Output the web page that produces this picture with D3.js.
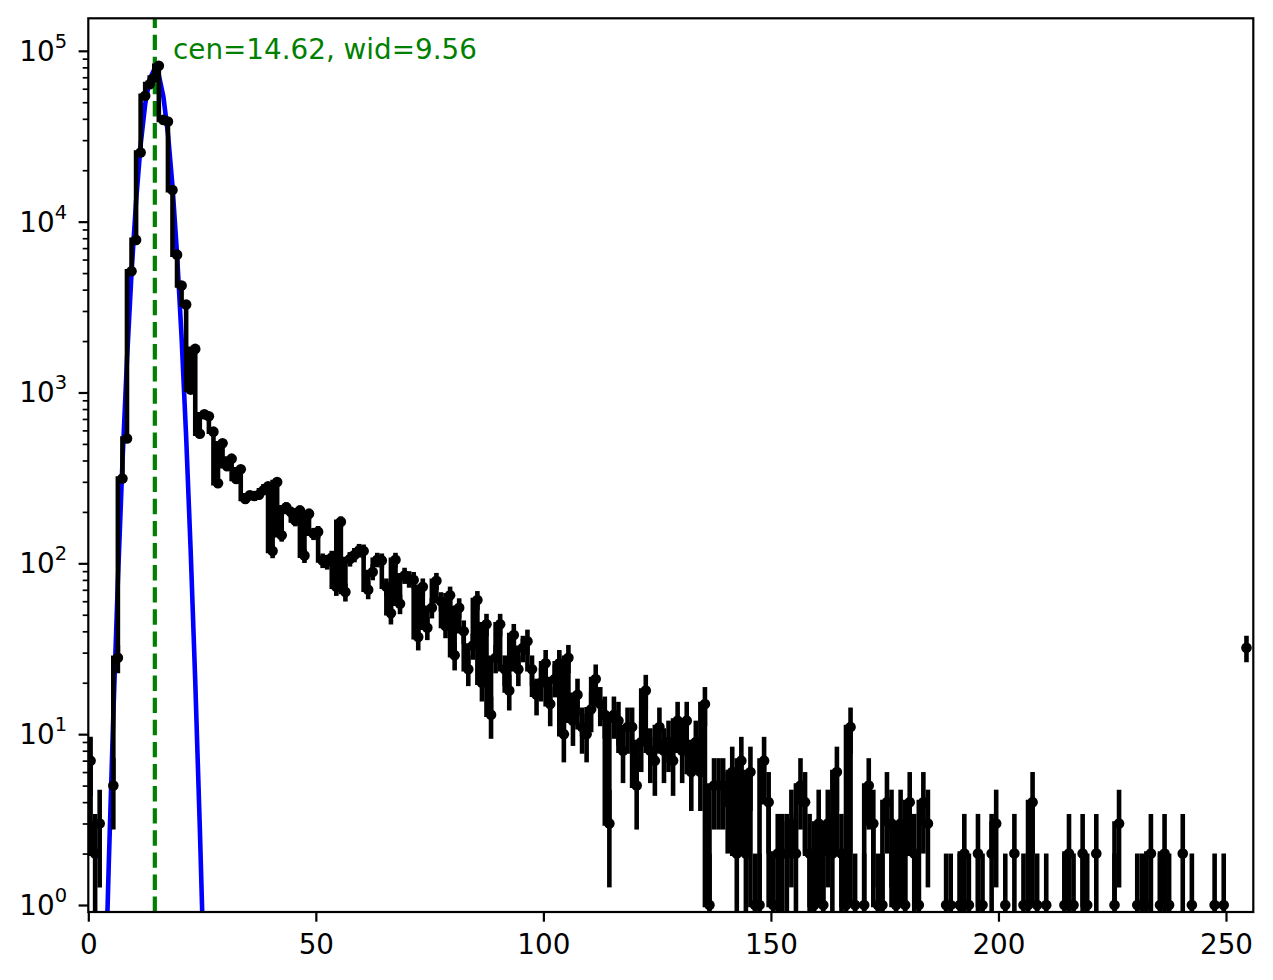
<!DOCTYPE html>
<html>
<head>
<meta charset="utf-8">
<script src="https://cdn.jsdelivr.net/npm/d3@7"></script>
<style>
  body { margin: 0; background: #fff; }
  text { font-family: "DejaVu Sans", sans-serif; }
</style>
</head>
<body>
<div id="chart"></div>
<script>
// counts per bin, 256 bins of width 1 (bin i is centred on i + 0.5)
var counts = [
  7, 2, 3, 0, 0, 5, 28, 314, 538, 5120, 7820, 25400, 54600, 63800, 69800, 81700,
  39400, 38600, 15300, 6410, 4230, 3270, 1040, 1800, 573, 745, 725, 590, 294, 505, 370, 410,
  312, 355, 238, 250, 248, 252, 268, 282, 118, 299, 146, 213, 200, 178, 204, 111,
  195, 149, 153, 104, 102, 108, 73, 175, 68, 106, 112, 119, 118, 70, 89, 105,
  104, 73, 51, 105, 58, 85, 81, 80, 37, 73, 42, 55, 79, 60, 43, 65,
  29, 55, 40, 24, 33, 61, 20, 44, 13, 28, 44, 24, 18, 38, 24, 32,
  35, 24, 17, 20, 26, 15, 21, 26, 10, 28, 12, 17, 11, 10, 14, 21,
  15, 13, 3, 13, 12, 8, 11, 11, 5, 9, 18, 8, 7, 11, 8, 9,
  7, 12, 8, 12, 6, 9, 6, 15, 1, 5, 5, 5, 4, 6, 2, 7,
  2, 6, 1, 1, 7, 4, 1, 2, 2, 2, 3, 2, 5, 4, 2, 1,
  3, 1, 3, 2, 6, 2, 1, 11, 1, 0, 1, 5, 3, 1, 1, 4,
  3, 1, 3, 1, 4, 2, 1, 4, 3, 0, 0, 0, 1, 1, 0, 1,
  2, 1, 0, 2, 1, 0, 2, 3, 0, 1, 0, 2, 0, 1, 1, 4,
  1, 0, 1, 0, 0, 0, 1, 2, 1, 0, 2, 1, 0, 2, 0, 0,
  0, 1, 3, 0, 0, 0, 1, 1, 1, 2, 0, 1, 2, 1, 0, 0,
  2, 0, 1, 0, 0, 0, 0, 1, 0, 1, 0, 0, 0, 0, 32, 0
];
var binWidth = 1;

// gaussian fit curve (blue), read at the bin centres
var fitX = [3.5, 4.5, 5.5, 6.5, 7.5, 8.5, 9.5, 10.5, 11.5, 12.5, 13.5, 14.5,
  15.5, 16.5, 17.5, 18.5, 19.5, 20.5, 21.5, 22.5, 23.5, 24.5, 25.5];
var fitY = [0.19, 1.74, 13, 78.6, 388, 1551, 5030, 13200, 28200, 48750, 68400, 77900,
  71900, 53900, 32760, 16150, 6460, 2096, 552, 117.7, 20.4, 2.87, 0.33];
var fitCen = 14.62;
var fitWid = 9.56;

// ticks
var xTicks = [0, 50, 100, 150, 200, 250];
var yExps = [0, 1, 2, 3, 4, 5];

// determine size of the figure and of the plot area
var width = 1273,
  height = 980,
  pLeft = 88.3,
  pRight = 1253.3,
  pTop = 18.3,
  pBottom = 912;
var fs = 27.8;

var x = d3.scaleLinear()
  .domain([0, 256])
  .range([pLeft, pRight]);

var y = d3.scaleLog()
  .domain([0.91, 1.55e5])
  .range([pBottom, pTop]);

var svg = d3.select("#chart")
  .append("svg")
  .attr("width", width)
  .attr("height", height);

svg.append("clipPath")
  .attr("id", "plotclip")
  .append("rect")
  .attr("x", pLeft)
  .attr("y", pTop)
  .attr("width", pRight - pLeft)
  .attr("height", pBottom - pTop);

// points of the histogram
var data = counts.map(function(c, i) {
  return { x: (i + 0.5) * binWidth, c: c };
});
var nonzero = data.filter(function(d) { return d.c > 0; });

var plot = svg.append("g").attr("clip-path", "url(#plotclip)");

// fit line
var fitLine = d3.line()
  .x(function(d, i) { return x(fitX[i]); })
  .y(function(d) { return y(d); });

plot.append("path")
  .attr("d", fitLine(fitY))
  .attr("fill", "none")
  .attr("stroke", "#0000ff")
  .attr("stroke-width", 4.6);

// dashed centre line
plot.append("line")
  .attr("x1", x(fitCen))
  .attr("x2", x(fitCen))
  .attr("y1", pBottom)
  .attr("y2", pTop)
  .attr("stroke", "#008000")
  .attr("stroke-width", 4.2)
  .attr("stroke-dasharray", "15.4,6.7");

// error bars, sqrt(N)
plot.selectAll(".ebar")
  .data(nonzero)
  .enter()
  .append("line")
  .attr("class", "ebar")
  .attr("x1", function(d) { return x(d.x); })
  .attr("x2", function(d) { return x(d.x); })
  .attr("y1", function(d) {
    var lo = d.c - Math.sqrt(d.c);
    return lo > 0.91 ? y(lo) : pBottom + 10;
  })
  .attr("y2", function(d) { return y(d.c + Math.sqrt(d.c)); })
  .attr("stroke", "#000")
  .attr("stroke-width", 4.6);

// step line joining the points
var step = d3.line()
  .defined(function(d) { return d.c > 0; })
  .x(function(d) { return x(d.x); })
  .y(function(d) { return y(d.c); })
  .curve(d3.curveStepBefore);

plot.append("path")
  .attr("d", step(data))
  .attr("fill", "none")
  .attr("stroke", "#000")
  .attr("stroke-width", 4.6)
  .attr("stroke-linejoin", "miter");

// markers
plot.selectAll(".dot")
  .data(nonzero)
  .enter()
  .append("circle")
  .attr("class", "dot")
  .attr("cx", function(d) { return x(d.x); })
  .attr("cy", function(d) { return y(d.c); })
  .attr("r", 5.3)
  .attr("fill", "#000");

// fit label
svg.append("text")
  .attr("x", x(fitCen + 4))
  .attr("y", y(d3.max(counts) * 1.1))
  .attr("fill", "#008000")
  .style("font-size", fs + "px")
  .text("cen=" + fitCen.toFixed(2) + ", wid=" + fitWid.toFixed(2));

// x axis
var xAxis = svg.append("g")
  .attr("transform", "translate(0," + pBottom + ")")
  .call(d3.axisBottom(x).tickValues(xTicks).tickSize(9.7).tickPadding(12.2));
xAxis.select(".domain").remove();
xAxis.selectAll("line").attr("stroke-width", 2.2);
xAxis.selectAll("text")
  .style("font-size", fs + "px")
  .style("font-family", "DejaVu Sans")
  .attr("fill", "#000");

// y axis, minor ticks first
var minors = [];
[-1, 0, 1, 2, 3, 4, 5].forEach(function(e) {
  for (var m = 2; m <= 9; m++) {
    var v = m * Math.pow(10, e);
    if (v > 0.91 && v < 1.55e5) minors.push(v);
  }
});
var yMinor = svg.append("g")
  .attr("transform", "translate(" + pLeft + ",0)")
  .call(d3.axisLeft(y).tickValues(minors).tickSize(5.6).tickFormat(""));
yMinor.select(".domain").remove();
yMinor.selectAll("line").attr("stroke-width", 1.7);

var yAxis = svg.append("g")
  .attr("transform", "translate(" + pLeft + ",0)")
  .call(d3.axisLeft(y)
    .tickValues(yExps.map(function(e) { return Math.pow(10, e); }))
    .tickSize(9.7)
    .tickFormat(""));
yAxis.select(".domain").remove();
yAxis.selectAll("line").attr("stroke-width", 2.2);

// labels like 10^5
var ylab = svg.selectAll(".ylab")
  .data(yExps)
  .enter()
  .append("text")
  .attr("class", "ylab")
  .attr("x", 67)
  .attr("y", function(d) { return y(Math.pow(10, d)) + 10; })
  .attr("text-anchor", "end")
  .attr("fill", "#000")
  .style("font-size", fs + "px");
ylab.append("tspan").text("10");
ylab.append("tspan")
  .attr("dy", -13)
  .style("font-size", (fs * 0.7) + "px")
  .text(function(d) { return d; });

// frame
svg.append("rect")
  .attr("x", pLeft)
  .attr("y", pTop)
  .attr("width", pRight - pLeft)
  .attr("height", pBottom - pTop)
  .attr("fill", "none")
  .attr("stroke", "#000")
  .attr("stroke-width", 2.2);
</script>
</body>
</html>
